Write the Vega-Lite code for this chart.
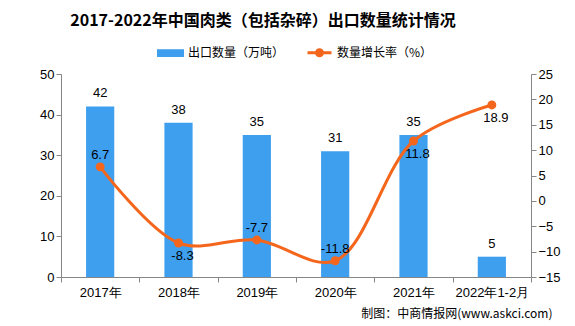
{
  "$schema": "https://vega.github.io/schema/vega-lite/v6.json",
  "autosize": {"type": "none"},
  "padding": {"left": 61, "top": 74, "right": 44, "bottom": 49},
  "width": 470,
  "height": 203,
  "background": "white",
  "title": {
    "text": "2017-2022年中国肉类（包括杂碎）出口数量统计情况",
    "font": "Noto Sans CJK SC",
    "fontSize": 16,
    "fontWeight": "bold",
    "color": "#000000",
    "anchor": "middle",
    "dx": -33,
    "offset": 10
  },
  "config": {
    "view": {"stroke": null},
    "axis": {"labelFont": "Liberation Sans", "labelFontSize": 13, "labelColor": "#000000", "domainColor": "#868686", "tickColor": "#868686", "grid": false},
    "legend": {"labelFont": "Noto Sans CJK SC", "labelFontSize": 12, "labelColor": "#000000"}
  },
  "data": {
    "values": [
      {"year": "2017年", "qty": 42, "rate": 6.7},
      {"year": "2018年", "qty": 38, "rate": -8.3},
      {"year": "2019年", "qty": 35, "rate": -7.7},
      {"year": "2020年", "qty": 31, "rate": -11.8},
      {"year": "2021年", "qty": 35, "rate": 11.8},
      {"year": "2022年1-2月", "qty": 5, "rate": 18.9}
    ]
  },
  "encoding": {
    "x": {
      "field": "year", "type": "nominal", "sort": null,
      "scale": {"type": "band", "paddingInner": 0, "paddingOuter": 0},
      "axis": {
        "title": "制图：中商情报网(www.askci.com)",
        "titleFont": "Noto Sans CJK SC", "titleFontSize": 12, "titleFontWeight": "normal", "titleColor": "#000000",
        "titleAnchor": "end", "titleAlign": "right", "titleX": 491, "titleY": 31,
        "labelAngle": 0, "tickBand": "extent", "labelPadding": 4, "tickSize": 5
      }
    }
  },
  "layer": [
    {
      "encoding": {
        "y": {"field": "qty", "type": "quantitative", "scale": {"domain": [0, 50]},
          "axis": {"title": null, "values": [0, 10, 20, 30, 40, 50], "orient": "left", "tickSize": 5, "labelOverlap": false}}
      },
      "layer": [
        {
          "mark": {"type": "bar", "width": {"band": 0.36}},
          "encoding": {
            "color": {"datum": "出口数量（万吨）", "type": "nominal",
              "scale": {"domain": ["出口数量（万吨）", "数量增长率（%）"], "range": ["#3F9FEF", "#F4661C"]},
              "legend": {
                "title": null, "orient": "none", "legendX": 96, "legendY": -35, "direction": "horizontal",
                "symbolSize": 576, "columnPadding": 16, "labelOffset": 4,
                "symbolType": "M-1,-0.2H1V0.2H-1Z",
                "encode": {"symbols": {"update": {
                  "shape": {"signal": "datum.value === '出口数量（万吨）' ? 'M-1,-0.2H1V0.2H-1Z' : 'M-1,0H1M-0.25,0A0.25,0.25 0 1,0 0.25,0A0.25,0.25 0 1,0 -0.25,0'"},
                  "strokeWidth": {"value": 3},
                  "stroke": {"signal": "datum.value === '出口数量（万吨）' ? null : '#F4661C'"},
                  "fill": {"signal": "datum.value === '出口数量（万吨）' ? '#3F9FEF' : '#F4661C'"},
                  "opacity": {"value": 1}
                }}}
              }}
          }
        },
        {
          "mark": {"type": "text", "baseline": "bottom", "dy": -6, "font": "Liberation Sans", "fontSize": 13, "color": "#000000"},
          "encoding": {
            "text": {"field": "qty", "type": "nominal"}
          }
        }
      ]
    },
    {
      "encoding": {
        "y": {"field": "rate", "type": "quantitative", "scale": {"domain": [-15, 25]},
          "axis": {"title": null, "values": [-15, -10, -5, 0, 5, 10, 15, 20, 25], "orient": "right", "tickSize": 5, "labelOverlap": false, "labelBound": false}}
      },
      "layer": [
        {
          "mark": {"type": "line", "interpolate": "catmull-rom", "strokeWidth": 3, "color": "#F4661C",
            "point": {"filled": true, "size": 80, "color": "#F4661C"}},
          "encoding": {
            "color": {"datum": "数量增长率（%）", "type": "nominal"}
          }
        },
        {
          "transform": [{"filter": {"field": "year", "oneOf": ["2017年", "2019年", "2020年"]}}],
          "mark": {"type": "text", "baseline": "bottom", "dy": -5, "font": "Liberation Sans", "fontSize": 13, "color": "#000000"},
          "encoding": {
            "text": {"field": "rate", "type": "nominal"}
          }
        },
        {
          "transform": [{"filter": {"field": "year", "oneOf": ["2018年", "2021年", "2022年1-2月"]}}],
          "mark": {"type": "text", "baseline": "top", "dy": 7, "dx": 4, "font": "Liberation Sans", "fontSize": 13, "color": "#000000"},
          "encoding": {
            "text": {"field": "rate", "type": "nominal"}
          }
        }
      ]
    }
  ],
  "resolve": {"scale": {"y": "independent"}}
}
